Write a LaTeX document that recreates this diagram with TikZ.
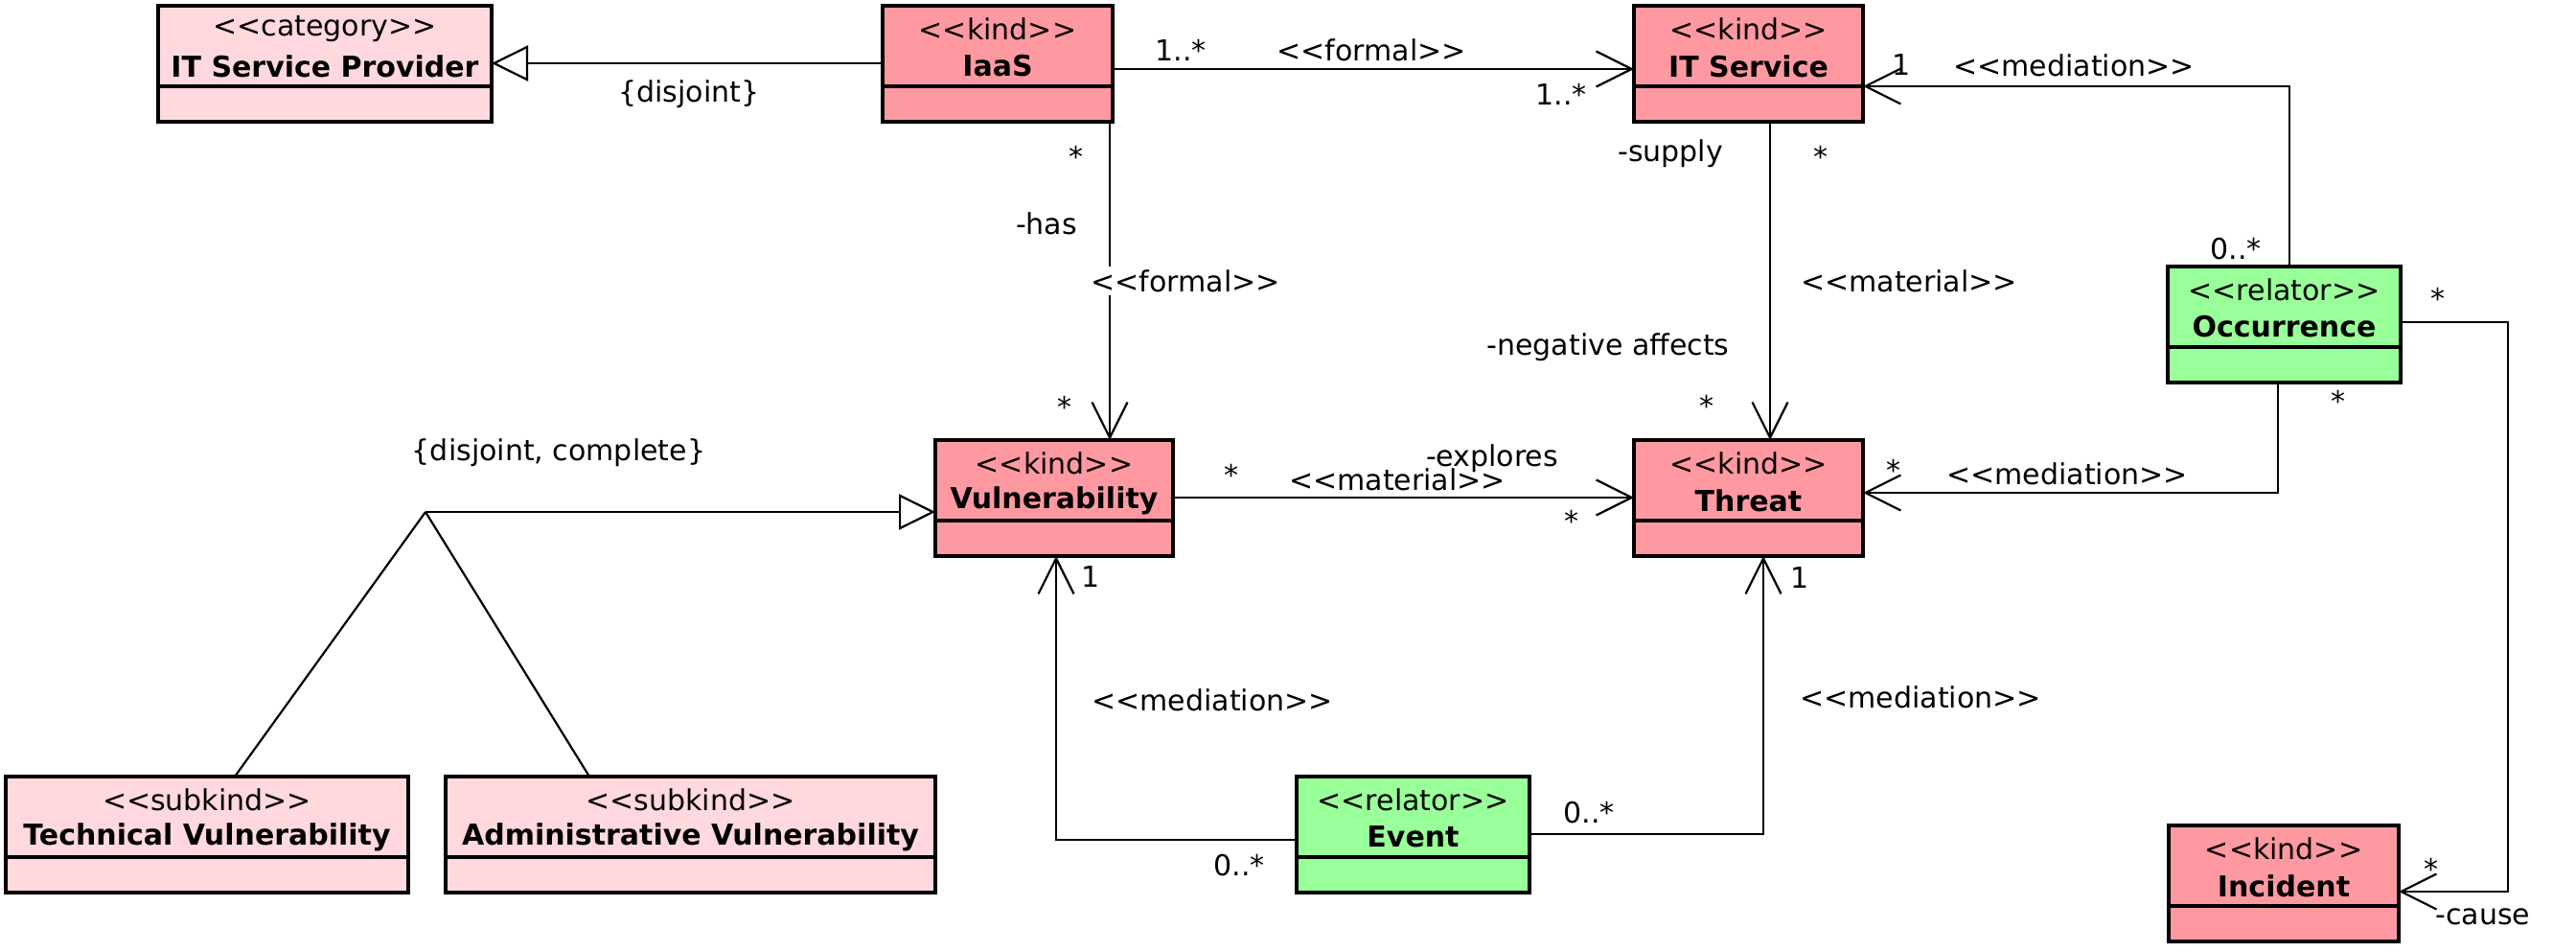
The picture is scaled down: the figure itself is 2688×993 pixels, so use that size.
\documentclass[tikz,border=0pt]{standalone}
\usepackage{fontspec}
\setmainfont{DejaVu Sans}
\usetikzlibrary{arrows.meta,calc}
\definecolor{kindc}{RGB}{255,153,161}
\definecolor{lightc}{RGB}{255,217,222}
\definecolor{relc}{RGB}{153,255,153}
\newcommand\st[1]{<{}<#1>{}>}
\newcommand\umlbox[7]{%
  \node[umlframe, fill=#2, minimum width={#5-#3}, anchor=north west] (#1) at (#3,#4) {};
  \draw[boxline] (#3,#4+84) -- (#5,#4+84);
  \node[stereo] (#1-st) at ($(#1.north)+(0,24)$) {\st{#6}};
  \node[title] (#1-nm) at ($(#1.north)+(0,63)$) {#7};
}
\tikzset{
  x=1pt, y=-1pt,
  every node/.style={font=\fontsize{30}{36}\selectfont},
  umlframe/.style={draw, line width=3.2pt, inner sep=0pt, outer sep=0pt, minimum height=121pt},
  boxline/.style={line width=3.2pt},
  stereo/.style={inner sep=0pt, font=\fontsize{30}{36}\selectfont},
  title/.style={inner sep=0pt, font=\fontsize{30}{36}\selectfont\bfseries},
  lbl/.style={inner sep=1pt},
  conn/.style={line width=2.2pt},
  assoc/.style={conn, -{Straight Barb[length=37pt,width=37pt]}},
  gen/.style={conn, -{Triangle[fill=white,length=38pt,width=37pt]}},
}
\begin{document}
\begin{tikzpicture}
\path[fill=white] (0,0) rectangle (2688,993);
\useasboundingbox (0,0) rectangle (2688,993);

% boxes
\umlbox{itsp}{lightc}{165}{6}{513}{category}{IT Service Provider}
\umlbox{iaas}{kindc}{921}{6}{1161}{kind}{IaaS}
\umlbox{itserv}{kindc}{1705}{6}{1944}{kind}{IT Service}
\umlbox{occ}{relc}{2262}{278}{2505}{relator}{Occurrence}
\umlbox{vuln}{kindc}{976}{459}{1224}{kind}{Vulnerability}
\umlbox{threat}{kindc}{1705}{459}{1944}{kind}{Threat}
\umlbox{tech}{lightc}{6}{810}{426}{subkind}{Technical Vulnerability}
\umlbox{admin}{lightc}{465}{810}{976}{subkind}{Administrative Vulnerability}
\umlbox{event}{relc}{1353}{810}{1596}{relator}{Event}
\umlbox{inc}{kindc}{2263}{861}{2503}{kind}{Incident}

% helper coordinates
\coordinate (yg1) at (0,66);
\coordinate (yf1) at (0,72);
\coordinate (xiaas) at (1158,0);
\coordinate (xserv) at (1847,0);
\coordinate (om1) at (2389,90);
\coordinate (om2) at (2377,514);
\coordinate (yo3) at (0,336);
\coordinate (kc) at (2617,930);
\coordinate (yvt) at (0,519);
\coordinate (ev1) at (1102,876);
\coordinate (ev2) at (1840,870);
\coordinate (gj) at (444,534);
\coordinate (gt) at (245,0);
\coordinate (ga) at (615,0);

% connectors
\draw[gen] (iaas.west |- yg1) -- (itsp.east |- yg1);
\draw[assoc] (iaas.east |- yf1) -- (itserv.west |- yf1);
\draw[assoc] (iaas.south -| xiaas) -- (vuln.north -| xiaas);
\draw[assoc] (itserv.south -| xserv) -- (threat.north -| xserv);
\draw[assoc] (occ.north -| om1) |- (itserv.east |- om1);
\draw[assoc] (occ.south -| om2) |- (threat.east |- om2);
\draw[assoc] (occ.east |- yo3) -| (kc) -- (inc.east |- kc);
\draw[assoc] (vuln.east |- yvt) -- (threat.west |- yvt);
\draw[assoc] (event.west |- ev1) -| (vuln.south -| ev1);
\draw[assoc] (event.east |- ev2) -| (threat.south -| ev2);
\draw[gen] (gj) -- (vuln.west |- gj);
\draw[conn] (gj) -- (tech.north -| gt);
\draw[conn] (gj) -- (admin.north -| ga);

% labels
\node[lbl] (l-disj) at (719,98) {\{disjoint\}};
\node[lbl] (l-m1) at (1232,52) {1..*};
\node[lbl] (l-f1) at (1431,52) {\st{formal}};
\node[lbl] (l-m2) at (1629,98) {1..*};
\node[lbl] (l-m3) at (1123,163) {*};
\node[lbl] (l-has) at (1092,233) {-has};
\node[lbl, fill=white, inner sep=3pt] (l-f2) at (1237,293) {\st{formal}};
\node[lbl] (l-m4) at (1111,424) {*};
\node[lbl] (l-sup) at (1743,160) {-supply};
\node[lbl] (l-m5) at (1900,163) {*};
\node[lbl] (l-mat1) at (1992,293) {\st{material}};
\node[lbl] (l-neg) at (1678,362) {-negative affects};
\node[lbl] (l-m6) at (1781,423) {*};
\node[lbl] (l-m7) at (1984,68) {1};
\node[lbl] (l-med1) at (2164,68) {\st{mediation}};
\node[lbl] (l-m8) at (2333,260) {0..*};
\node[lbl] (l-m9) at (2544,311) {*};
\node[lbl] (l-m10) at (2440,418) {*};
\node[lbl] (l-dc) at (583,472) {\{disjoint, complete\}};
\node[lbl] (l-m11) at (1285,495) {*};
\node[lbl] (l-mat2) at (1458,500) {\st{material}};
\node[lbl] (l-exp) at (1557,478) {-explores};
\node[lbl] (l-m12) at (1640,543) {*};
\node[lbl] (l-m13) at (1976,490) {*};
\node[lbl] (l-med2) at (2157,494) {\st{mediation}};
\node[lbl] (l-m14) at (1138,602) {1};
\node[lbl] (l-m15) at (1878,603) {1};
\node[lbl] (l-med3) at (1265,730) {\st{mediation}};
\node[lbl] (l-med4) at (2004,727) {\st{mediation}};
\node[lbl] (l-m16) at (1658,848) {0..*};
\node[lbl] (l-m17) at (1293,903) {0..*};
\node[lbl] (l-m18) at (2537,906) {*};
\node[lbl] (l-cause) at (2591,956) {-cause};
\end{tikzpicture}
\end{document}
